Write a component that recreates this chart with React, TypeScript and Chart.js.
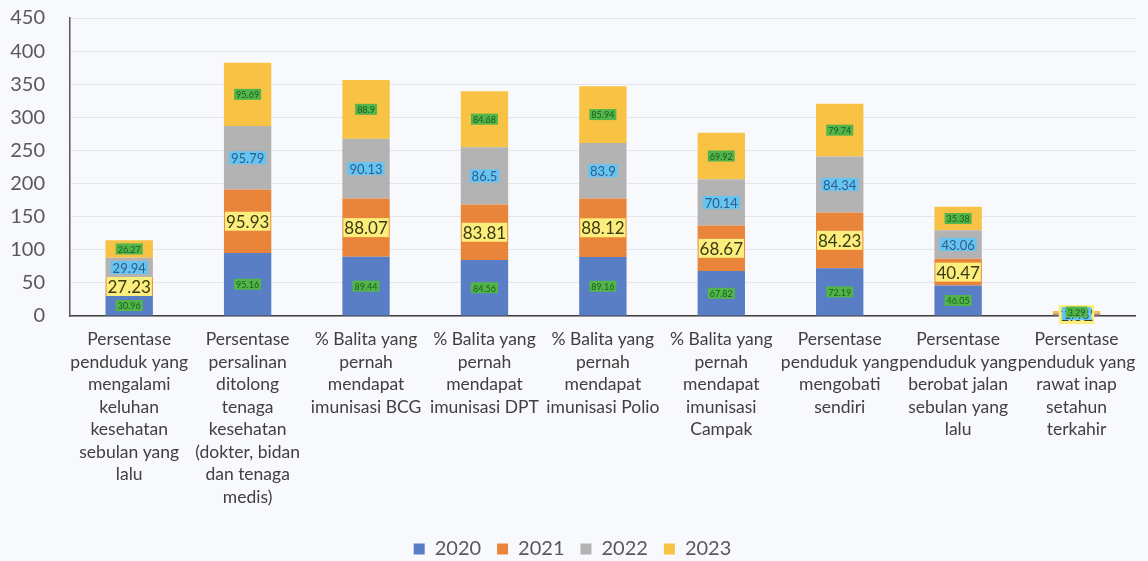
import React, { useEffect, useRef } from "react";
import { Chart, registerables } from "chart.js";

Chart.register(...registerables);

const categories: string[][] = [
  ["Persentase", "penduduk yang", "mengalami", "keluhan", "kesehatan", "sebulan yang", "lalu"],
  ["Persentase", "persalinan", "ditolong", "tenaga", "kesehatan", "(dokter, bidan", "dan tenaga", "medis)"],
  ["% Balita yang", "pernah", "mendapat", "imunisasi BCG"],
  ["% Balita yang", "pernah", "mendapat", "imunisasi DPT"],
  ["% Balita yang", "pernah", "mendapat", "imunisasi Polio"],
  ["% Balita yang", "pernah", "mendapat", "imunisasi", "Campak"],
  ["Persentase", "penduduk yang", "mengobati", "sendiri"],
  ["Persentase", "penduduk yang", "berobat jalan", "sebulan yang", "lalu"],
  ["Persentase", "penduduk yang", "rawat inap", "setahun", "terkahir"],
];

const years = ["2020", "2021", "2022", "2023"];

const values2020 = [30.96, 95.16, 89.44, 84.56, 89.16, 67.82, 72.19, 46.05, 1.37];
const values2021 = [27.23, 95.93, 88.07, 83.81, 88.12, 68.67, 84.23, 40.47, 1.52];
const values2022 = [29.94, 95.79, 90.13, 86.5, 83.9, 70.14, 84.34, 43.06, 1.48];
const values2023 = [26.27, 95.69, 88.9, 84.68, 85.94, 69.92, 79.74, 35.38, 3.29];

const yMin = 0;
const yMax = 450;
const yStep = 50;

const barColors = ["#5a7ec6", "#e8853b", "#b3b3b3", "#f8c244"];

const labelStyles = [
  { bg: "#52b54a", fg: "#1d5a1d", size: 9, padX: 2, padY: 1 },
  { bg: "#fbee7c", fg: "#3a3a14", size: 17, padX: 1, padY: 1 },
  { bg: "#66c4f2", fg: "#2f5d88", size: 13, padX: 2, padY: 0 },
  { bg: "#52b54a", fg: "#1d5a1d", size: 9, padX: 2, padY: 1 },
];

const FONT = "Lato, 'Open Sans', sans-serif";

const valueLabelPlugin = {
  id: "valueLabels",
  afterDatasetsDraw(chart: any) {
    const ctx = chart.ctx;
    chart.data.datasets.forEach((ds: any, i: number) => {
      const meta = chart.getDatasetMeta(i);
      const st = labelStyles[i];
      meta.data.forEach((bar: any, j: number) => {
        const v = ds.data[j];
        if (v == null) return;
        const { x, y, base } = bar.getProps(["x", "y", "base"], true);
        const cy = (y + base) / 2;
        const text = String(v);
        ctx.save();
        ctx.font = `${st.size}px ${FONT}`;
        const w = ctx.measureText(text).width + st.padX * 2;
        const h = st.size + st.padY * 2;
        ctx.fillStyle = st.bg;
        ctx.fillRect(x - w / 2, cy - h / 2, w, h);
        ctx.fillStyle = st.fg;
        ctx.textAlign = "center";
        ctx.textBaseline = "middle";
        ctx.fillText(text, x, cy + 1);
        ctx.restore();
      });
    });
  },
};

export default function App() {
  const ref = useRef<HTMLCanvasElement | null>(null);

  useEffect(() => {
    if (!ref.current) return;
    const series = [values2020, values2021, values2022, values2023];
    const chart = new Chart(ref.current, {
      type: "bar",
      data: {
        labels: categories,
        datasets: years.map((yr, i) => ({
          label: yr,
          data: series[i],
          backgroundColor: barColors[i],
          borderWidth: 0,
          categoryPercentage: 1,
          barPercentage: 0.4,
        })),
      },
      options: {
        responsive: false,
        animation: false,
        layout: { padding: { left: 8, right: 11, top: 0, bottom: -8 } },
        plugins: {
          legend: {
            position: "bottom",
            labels: {
              boxWidth: 11,
              boxHeight: 11,
              padding: 16,
              color: "#595959",
              font: { family: FONT, size: 20 },
            },
          },
          tooltip: { enabled: false },
        },
        scales: {
          x: {
            stacked: true,
            grid: { display: false, drawTicks: false },
            border: { color: "#404040", width: 1.5 },
            ticks: {
              autoSkip: false,
              maxRotation: 0,
              minRotation: 0,
              padding: 12,
              color: "#404040",
              font: { family: FONT, size: 17.5, lineHeight: 1.29 },
            },
            afterFit: (scale: any) => {
              scale.height = 207;
            },
          },
          y: {
            stacked: true,
            min: yMin,
            max: yMax,
            ticks: {
              stepSize: yStep,
              padding: 25,
              color: "#595959",
              font: { family: FONT, size: 20 },
            },
            grid: { color: "#e4e6ea", drawTicks: false },
            border: { color: "#595959", width: 1.5 },
            afterFit: (scale: any) => {
              scale.width = 62;
              scale.paddingTop = 18;
              scale.paddingBottom = 0;
            },
          },
        },
      },
      plugins: [valueLabelPlugin],
    });
    return () => chart.destroy();
  }, []);

  return (
    <div
      style={{
        position: "fixed",
        left: 0,
        top: 0,
        width: 1148,
        height: 561,
        background: "#f8f9fc",
      }}
    >
      <canvas ref={ref} width={1148} height={561} />
    </div>
  );
}
